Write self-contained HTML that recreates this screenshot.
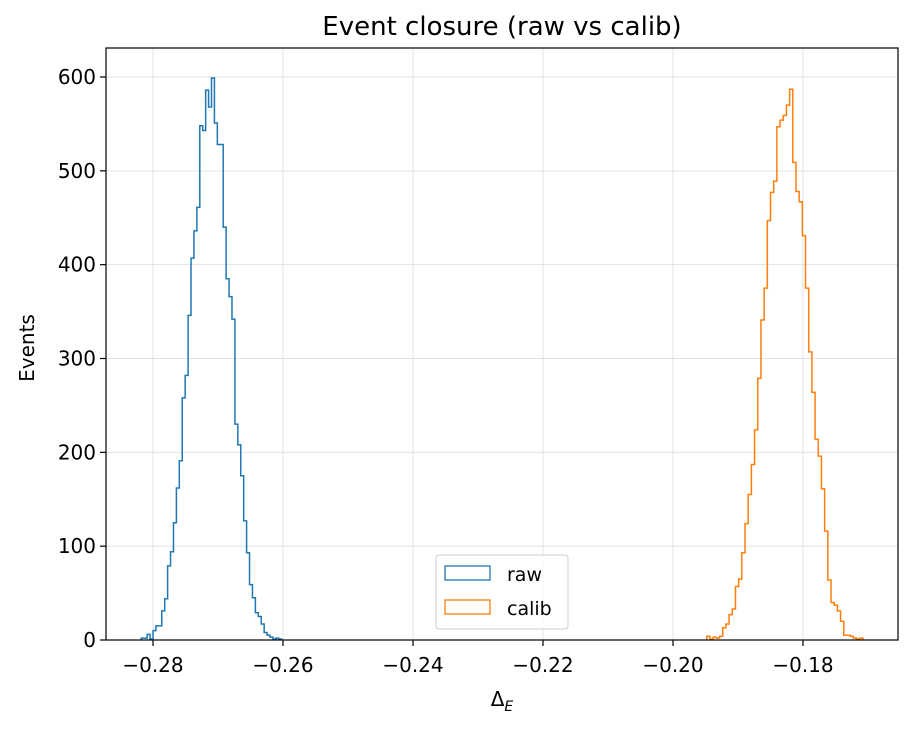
<!DOCTYPE html>
<html><head><meta charset="utf-8"><style>
body{margin:0;background:#fff;}
svg{display:block;font-family:"DejaVu Sans","Liberation Sans",sans-serif;}
</style></head><body>
<svg id="chart" width="915" height="729">
<rect width="915" height="729" fill="#fff"/>
<g id="grid"></g>
<g id="series"></g>
<rect x="106" y="48" width="792" height="592" fill="none" stroke="#000" stroke-width="1.2"/>
<g id="axes"></g>
<text x="502" y="35" font-size="26" text-anchor="middle">Event closure (raw vs calib)</text>
<text x="502" y="706" font-size="20" text-anchor="middle">Δ<tspan font-size="14" dy="5" font-style="italic">E</tspan></text>
<text transform="translate(34,348) rotate(-90)" font-size="20" text-anchor="middle">Events</text>
<g>
<rect x="436" y="555" width="132" height="74" rx="3" fill="#fff" fill-opacity="0.8" stroke="#ccc"/>
<rect x="445" y="566" width="45" height="14" fill="none" stroke="#1f77b4" stroke-width="1.3"/>
<text x="507" y="581" font-size="19">raw</text>
<rect x="445" y="600" width="45" height="14" fill="none" stroke="#ff7f0e" stroke-width="1.3"/>
<text x="507" y="615" font-size="19">calib</text>
</g>
</svg>
<script>
const rawStart = -0.2818, rawWidth = 0.00045;
const rawCounts = [2,2,6,1,10,15,15,31,44,79,94,125,162,191,258,282,346,407,436,461,548,543,586,568,599,551,528,528,440,385,366,342,230,208,175,127,93,59,45,29,25,17,8,5,3,1,2,1];
const calibStart = -0.1948, calibWidth = 0.00049;
const calibCounts = [4,1,3,2,4,13,17,27,33,57,65,93,124,155,187,224,279,341,375,447,477,489,547,554,559,570,587,509,478,467,431,375,307,264,214,196,161,116,64,40,37,31,20,5,5,4,2,1,2];
const xTicks = [-0.28,-0.26,-0.24,-0.22,-0.20,-0.18];
const xTickLabels = ["−0.28","−0.26","−0.24","−0.22","−0.20","−0.18"];
const yTicks = [0,100,200,300,400,500,600];

const NS="http://www.w3.org/2000/svg";
const X = v => 153 + (v + 0.28) / 0.02 * 130;
const Y = v => 640 - v * (563 / 600);
function mk(tag, attrs, parent){const e=document.createElementNS(NS,tag);for(const k in attrs)e.setAttribute(k,attrs[k]);parent.appendChild(e);return e;}
const grid=document.getElementById('grid'), axes=document.getElementById('axes'), series=document.getElementById('series');
xTicks.forEach((t,i)=>{
  const gl=mk('line',{x1:X(t),x2:X(t),y1:48,y2:640,stroke:'#b0b0b0','stroke-opacity':0.35,'stroke-width':1},grid);
  
  
  const tk=mk('line',{x1:X(t),x2:X(t),y1:640,y2:646,stroke:'#000','stroke-width':1.2},axes);
  
  
  const tl=mk('text',{x:X(t),y:672,'font-size':20,'text-anchor':'middle'},axes);
  tl.textContent=xTickLabels[i];
  
  
});
yTicks.forEach(t=>{
  const gl=mk('line',{x1:106,x2:898,y1:Y(t),y2:Y(t),stroke:'#b0b0b0','stroke-opacity':0.35,'stroke-width':1},grid);
  
  
  const tk=mk('line',{x1:100,x2:106,y1:Y(t),y2:Y(t),stroke:'#000','stroke-width':1.2},axes);
  
  
  const tl=mk('text',{x:96,y:Y(t)+7,'font-size':20,'text-anchor':'end'},axes);
  tl.textContent=String(t);
  
  
});
function stepPath(start,w,counts){
  let d='M'+X(start)+','+Y(0);
  counts.forEach((c,i)=>{const x0=X(start+i*w),x1=X(start+(i+1)*w);d+=' L'+x0+','+Y(c)+' L'+x1+','+Y(c);});
  d+=' L'+X(start+counts.length*w)+','+Y(0);
  return d;
}
const p1=mk('path',{d:stepPath(rawStart,rawWidth,rawCounts),fill:'none',stroke:'#1f77b4','stroke-width':1.5},series);


const p2=mk('path',{d:stepPath(calibStart,calibWidth,calibCounts),fill:'none',stroke:'#ff7f0e','stroke-width':1.5},series);


</script>
</body></html>
